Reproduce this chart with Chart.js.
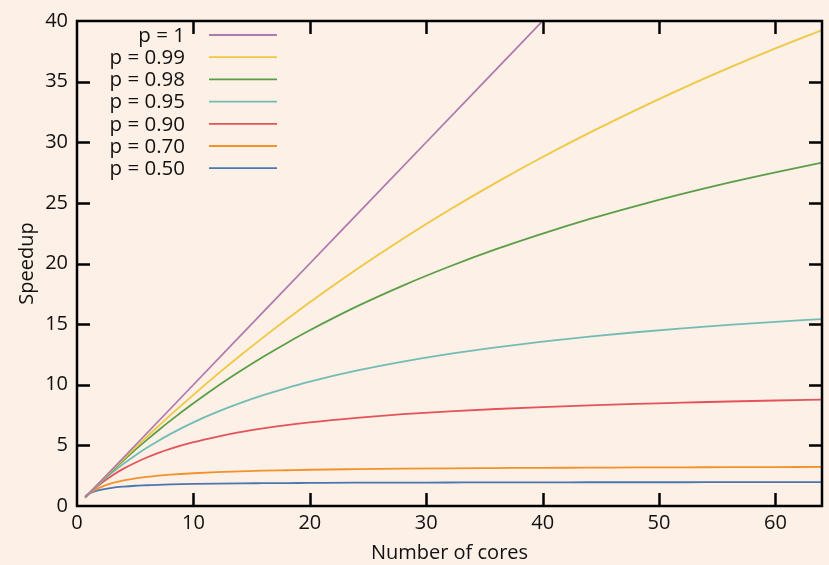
<!DOCTYPE html>
<html>
<head>
<meta charset="utf-8">
<script src="https://cdn.jsdelivr.net/npm/chart.js@4/dist/chart.umd.min.js"></script>
<style>
  html, body { margin: 0; padding: 0; background: #fdf0e6; }
  #wrap { width: 829px; height: 565px; }
</style>
</head>
<body>
<div id="wrap"><canvas id="amdahl" width="829" height="565"></canvas></div>
<script>
// cores (x) and speedup values
var cores = [0.7, 1, 1.5, 2, 3, 4, 5, 6, 7, 8, 10, 12, 14, 16, 18, 20, 24, 28, 32, 36, 40, 44, 48, 52, 56, 60, 64];
var coresLinear = [0.7, 1, 2, 4, 10, 20, 30, 40];
var speedP100 = [0.7, 1, 2, 4, 10, 20, 30, 40];
var speedP099 = [0.70, 1, 1.49, 1.98, 2.94, 3.88, 4.81, 5.71, 6.60, 7.48, 9.17, 10.81, 12.39, 13.91, 15.38, 16.81, 19.51, 22.05, 24.43, 26.67, 28.78, 30.77, 32.65, 34.44, 36.13, 37.74, 39.26];
var speedP098 = [0.70, 1, 1.49, 1.96, 2.88, 3.77, 4.63, 5.45, 6.25, 7.02, 8.47, 9.84, 11.11, 12.31, 13.43, 14.49, 16.44, 18.18, 19.75, 21.18, 22.47, 23.66, 24.74, 25.74, 26.67, 27.52, 28.32];
var speedP095 = [0.71, 1, 1.46, 1.90, 2.73, 3.48, 4.17, 4.80, 5.38, 5.93, 6.90, 7.74, 8.48, 9.14, 9.73, 10.26, 11.16, 11.91, 12.55, 13.09, 13.56, 13.97, 14.33, 14.65, 14.93, 15.19, 15.42];
var speedP090 = [0.72, 1, 1.43, 1.82, 2.50, 3.08, 3.57, 4.00, 4.38, 4.71, 5.26, 5.71, 6.09, 6.40, 6.67, 6.90, 7.27, 7.57, 7.80, 8.00, 8.16, 8.30, 8.42, 8.52, 8.62, 8.70, 8.77];
var speedP070 = [0.77, 1, 1.30, 1.54, 1.88, 2.11, 2.27, 2.40, 2.50, 2.58, 2.70, 2.79, 2.86, 2.91, 2.95, 2.99, 3.04, 3.08, 3.11, 3.13, 3.15, 3.16, 3.18, 3.19, 3.20, 3.21, 3.22];
var speedP050 = [0.82, 1, 1.20, 1.33, 1.50, 1.60, 1.67, 1.71, 1.75, 1.78, 1.82, 1.85, 1.87, 1.88, 1.89, 1.90, 1.92, 1.93, 1.94, 1.95, 1.95, 1.96, 1.96, 1.96, 1.97, 1.97, 1.97];

var labels = ["p = 1", "p = 0.99", "p = 0.98", "p = 0.95", "p = 0.90", "p = 0.70", "p = 0.50"];
var colors = ["#b07aaf", "#efc842", "#5b9e47", "#72bcb6", "#e4525a", "#f3912d", "#4a77b0"];
var xTicks = [0, 10, 20, 30, 40, 50, 60];
var yTicks = [0, 5, 10, 15, 20, 25, 30, 35, 40];

var FONT = "'Open Sans', 'DejaVu Sans', sans-serif";

function pts(xs, ys) {
    var out = [];
    for (var i = 0; i < xs.length; i++) out.push({x: xs[i], y: ys[i]});
    return out;
}

var series = [
    pts(coresLinear, speedP100),
    pts(cores, speedP099),
    pts(cores, speedP098),
    pts(cores, speedP095),
    pts(cores, speedP090),
    pts(cores, speedP070),
    pts(cores, speedP050)
];

var datasets = [];
for (var i = 0; i < series.length; i++) {
    datasets.push({
        label: labels[i],
        data: series[i],
        borderColor: colors[i],
        backgroundColor: colors[i],
        borderWidth: 1.8,
        pointRadius: 0,
        fill: false,
        cubicInterpolationMode: 'monotone'
    });
}

// frame, inward ticks on all four sides, and the legend inside the plot
var framePlugin = {
    id: 'frame',
    beforeDraw: function(chart) {
        var c = chart.ctx;
        c.save();
        c.fillStyle = '#fdf0e6';
        c.fillRect(0, 0, chart.width, chart.height);
        c.restore();
    },
    afterDraw: function(chart) {
        var c = chart.ctx, a = chart.chartArea;
        var xs = chart.scales.x, ys = chart.scales.y;
        c.save();
        c.strokeStyle = '#000';
        c.lineWidth = 2.5;
        c.strokeRect(a.left, a.top, a.right - a.left, a.bottom - a.top);
        c.beginPath();
        xTicks.forEach(function(v) {
            var px = Math.round(xs.getPixelForValue(v)) + 0.5;
            if (v > 0) {
                c.moveTo(px, a.bottom); c.lineTo(px, a.bottom - 13);
                c.moveTo(px, a.top); c.lineTo(px, a.top + 13);
            }
        });
        yTicks.forEach(function(v) {
            var py = Math.round(ys.getPixelForValue(v)) + 0.5;
            if (v > 0 && v < 40) {
                c.moveTo(a.left, py); c.lineTo(a.left + 13, py);
                c.moveTo(a.right, py); c.lineTo(a.right - 13, py);
            }
        });
        c.stroke();

        // legend
        c.font = '20.5px ' + FONT;
        c.textAlign = 'right';
        c.textBaseline = 'middle';
        chart.data.datasets.forEach(function(ds, k) {
            var y = 35 + k * 22.2;
            c.fillStyle = '#111';
            c.fillText(ds.label, 185, y + 1);
            c.strokeStyle = ds.borderColor;
            c.lineWidth = 1.8;
            c.beginPath();
            c.moveTo(209, y); c.lineTo(277, y);
            c.stroke();
        });
        c.restore();
    }
};

var ctx = document.getElementById('amdahl').getContext('2d');
var chart = new Chart(ctx, {
    type: 'line',
    data: { datasets: datasets },
    options: {
        responsive: false,
        animation: false,
        layout: { padding: { top: 10, right: 7, left: 0, bottom: 0 } },
        plugins: {
            legend: { display: false },
            tooltip: { enabled: false }
        },
        scales: {
            x: {
                type: 'linear',
                min: 0,
                max: 64,
                grid: { display: false, drawTicks: false },
                border: { display: false },
                afterFit: function(s) { s.height = 59; },
                afterBuildTicks: function(s) {
                    s.ticks = xTicks.map(function(v) { return {value: v}; });
                },
                ticks: {
                    color: '#111',
                    padding: 5,
                    maxRotation: 0,
                    font: { family: FONT, size: 20 }
                },
                title: {
                    display: true,
                    text: 'Number of cores',
                    color: '#111',
                    padding: { top: 0, bottom: 0 },
                    font: { family: FONT, size: 20 }
                }
            },
            y: {
                type: 'linear',
                min: 0,
                max: 40,
                grid: { display: false, drawTicks: false },
                border: { display: false },
                afterFit: function(s) { s.width = 77; },
                afterBuildTicks: function(s) {
                    s.ticks = yTicks.map(function(v) { return {value: v}; });
                },
                ticks: {
                    color: '#111',
                    padding: 9,
                    font: { family: FONT, size: 20 }
                },
                title: {
                    display: true,
                    text: 'Speedup',
                    color: '#111',
                    padding: { top: 15, bottom: 0 },
                    font: { family: FONT, size: 20 }
                }
            }
        }
    },
    plugins: [framePlugin]
});
</script>
</body>
</html>
